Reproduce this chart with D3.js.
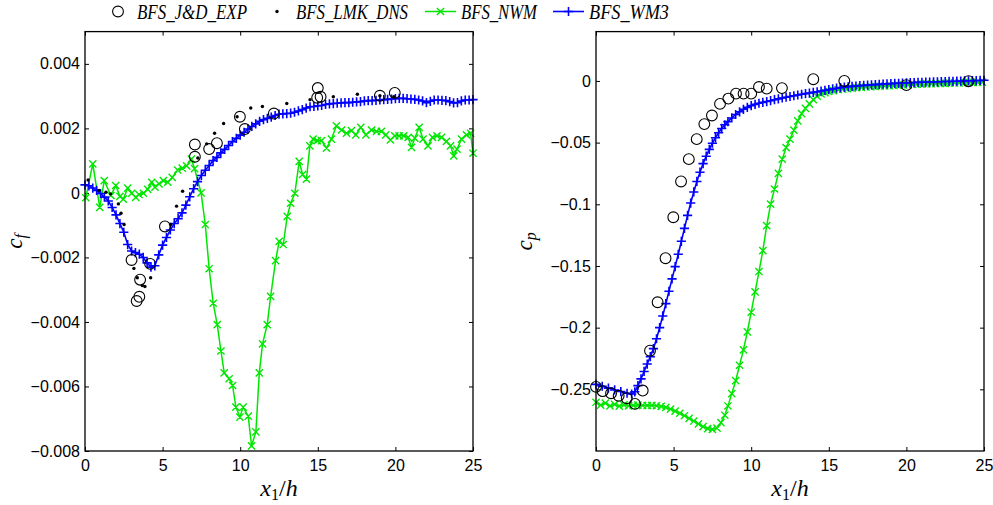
<!DOCTYPE html>
<html>
<head>
<meta charset="utf-8">
<script src="https://cdn.jsdelivr.net/npm/d3@7"></script>
<style>
  html, body { margin: 0; padding: 0; background: #fff; }
  svg { display: block; }
  .math { font-family: "Liberation Serif", "DejaVu Serif", "Times New Roman", Times, serif; font-style: italic; }
</style>
</head>
<body>
<svg id="chart" width="993" height="505"></svg>
<script>
// ---------------- DATA ----------------
const seriesNames = ["BFS_J&D_EXP", "BFS_LMK_DNS", "BFS_NWM", "BFS_WM3"];
const xTicks = [0, 5, 10, 15, 20, 25];
const cfTicks = [-0.008, -0.006, -0.004, -0.002, 0, 0.002, 0.004];
const cpTicks = [-0.25, -0.2, -0.15, -0.1, -0.05, 0];

// Left panel: skin friction (values in units of 1e-3)
const cfExpX = [3.0, 3.33, 3.5, 3.55, 4.2, 5.15, 7.08, 7.08, 8.0, 8.5, 9.98, 10.3, 12.17, 15.0, 14.96, 15.18, 19.0, 19.96];
const cfExp  = [-2.08, -3.35, -3.22, -2.69, -2.2, -1.04, 1.12, 1.5, 1.36, 1.54, 2.36, 1.98, 2.46, 3.25, 2.95, 2.98, 3.01, 3.1];

const cfDnsX = [0.2, 0.9, 1.35, 1.65, 2.15, 2.32, 2.52, 3.15, 3.37, 3.69, 3.86, 4.23, 5.52, 5.9, 6.29, 7.27, 7.84, 8.35, 8.93, 9.8, 10.68, 11.43, 13.0, 14.5, 16.0, 17.55, 19.0, 19.9];
const cfDns  = [0.4, 0.08, 0.02, -0.03, -0.34, -0.63, -0.98, -2.34, -2.63, -2.87, -2.9, -2.63, -0.98, -0.41, 0.05, 1.08, 1.52, 1.85, 2.15, 2.36, 2.63, 2.68, 2.77, 2.89, 2.98, 3.06, 3.01, 2.98];

const cfNwmX = [0.05, 0.5, 0.95, 1.24, 1.67, 1.98, 2.25, 2.47, 2.75, 3.01, 3.27, 3.48, 3.76, 4.04, 4.3, 4.51, 4.77, 5.05, 5.33, 5.62, 5.97, 6.27, 6.55, 6.85, 7.06, 7.48, 7.75, 8.0, 8.26, 8.52, 8.76, 8.97, 9.29, 9.51, 9.72, 9.98, 10.19, 10.52, 10.73, 11.01, 11.23, 11.44, 11.74, 11.96, 12.28, 12.51, 12.77, 13.03, 13.25, 13.52, 13.8, 14.02, 14.27, 14.49, 14.7, 14.96, 15.24, 15.56, 15.88, 16.2, 16.53, 16.85, 17.17, 17.45, 17.77, 18.1, 18.46, 18.78, 19.1, 19.38, 19.68, 19.96, 20.24, 20.54, 20.82, 21.04, 21.25, 21.53, 21.78, 22.1, 22.39, 22.68, 22.97, 23.29, 23.55, 23.76, 23.97, 24.26, 24.58, 24.84, 25.0];
const cfNwm  = [-0.15, 0.9, -0.45, 0.38, -0.08, 0.23, -0.11, -0.19, 0.15, -0.01, -0.14, -0.05, -0.01, 0.11, 0.33, 0.18, 0.28, 0.38, 0.33, 0.48, 0.71, 0.77, 0.84, 1.05, 0.75, 0.0, -0.98, -2.35, -3.42, -4.08, -4.9, -5.58, -5.76, -5.97, -6.64, -6.95, -6.64, -6.92, -7.84, -7.41, -5.58, -4.68, -4.08, -3.21, -2.1, -1.5, -1.6, -0.73, -0.32, -0.01, 0.98, 0.57, 0.43, 1.46, 1.67, 1.62, 1.62, 1.39, 1.67, 2.08, 1.95, 1.85, 1.93, 1.8, 2.03, 1.8, 1.95, 1.91, 1.91, 1.8, 1.64, 1.77, 1.77, 1.77, 1.72, 1.41, 1.7, 2.03, 1.67, 1.46, 1.72, 1.77, 1.72, 1.6, 1.46, 1.15, 1.36, 1.67, 1.8, 1.85, 1.23];

const cfWm3X = [0, 0.25, 0.5, 0.75, 1, 1.25, 1.5, 1.75, 2, 2.25, 2.5, 2.75, 3, 3.25, 3.5, 3.75, 4, 4.25, 4.5, 4.75, 5, 5.25, 5.5, 5.75, 6, 6.25, 6.5, 6.75, 7, 7.25, 7.5, 7.75, 8, 8.25, 8.5, 8.75, 9, 9.25, 9.5, 9.75, 10, 10.25, 10.5, 10.75, 11, 11.25, 11.5, 11.75, 12, 12.25, 12.5, 12.75, 13, 13.25, 13.5, 13.75, 14, 14.25, 14.5, 14.75, 15, 15.25, 15.5, 15.75, 16, 16.25, 16.5, 16.75, 17, 17.25, 17.5, 17.75, 18, 18.25, 18.5, 18.75, 19, 19.25, 19.5, 19.75, 20, 20.25, 20.5, 20.75, 21, 21.25, 21.5, 21.75, 22, 22.25, 22.5, 22.75, 23, 23.25, 23.5, 23.75, 24, 24.25, 24.5, 24.75, 25];
const cfWm3  = [0.25, 0.22, 0.15, 0.08, -0.02, -0.13, -0.25, -0.45, -0.68, -0.95, -1.22, -1.6, -1.8, -1.85, -1.9, -2.0, -2.17, -2.3, -2.26, -1.92, -1.62, -1.38, -1.15, -0.95, -0.8, -0.62, -0.38, -0.12, 0.13, 0.35, 0.54, 0.7, 0.85, 1.0, 1.1, 1.24, 1.35, 1.47, 1.59, 1.69, 1.79, 1.88, 1.98, 2.06, 2.14, 2.22, 2.27, 2.31, 2.35, 2.4, 2.44, 2.45, 2.46, 2.47, 2.5, 2.54, 2.58, 2.63, 2.67, 2.68, 2.7, 2.71, 2.74, 2.76, 2.77, 2.78, 2.79, 2.8, 2.8, 2.81, 2.82, 2.83, 2.85, 2.86, 2.86, 2.87, 2.88, 2.89, 2.9, 2.91, 2.92, 2.93, 2.93, 2.92, 2.91, 2.9, 2.88, 2.85, 2.8, 2.84, 2.88, 2.88, 2.87, 2.86, 2.83, 2.79, 2.8, 2.85, 2.88, 2.88, 2.89];

// Right panel: pressure coefficient
const cpExpX = [0, 0.43, 0.97, 1.46, 1.98, 2.51, 3.01, 3.48, 3.97, 4.48, 4.98, 5.48, 5.98, 6.49, 6.98, 7.47, 7.99, 8.53, 9.02, 9.51, 10.0, 10.5, 11.0, 11.98, 14.0, 16.0, 20.0, 24.0];
const cpExp  = [-0.248, -0.2515, -0.2532, -0.2552, -0.2572, -0.2618, -0.251, -0.2187, -0.1794, -0.1437, -0.1105, -0.0815, -0.0634, -0.0472, -0.035, -0.028, -0.0186, -0.0143, -0.0103, -0.0103, -0.0103, -0.0049, -0.0062, -0.0058, 0.0014, 0.0, -0.0034, -0.0002];

const cpNwmX = [0, 0.3, 0.6, 0.9, 1.2, 1.5, 1.8, 2.1, 2.4, 2.7, 3.0, 3.3, 3.6, 3.9, 4.2, 4.5, 4.8, 5.1, 5.4, 5.7, 6.0, 6.3, 6.6, 6.9, 7.2, 7.5, 7.8, 8.05, 8.3, 8.5, 8.75, 9.0, 9.25, 9.5, 9.75, 10.0, 10.25, 10.5, 10.75, 11.0, 11.25, 11.5, 11.75, 12.0, 12.25, 12.5, 12.75, 13.0, 13.25, 13.5, 13.75, 14.0, 14.25, 14.5, 14.75, 15.0, 15.3, 15.6, 15.9, 16.2, 16.5, 16.8, 17.1, 17.4, 17.7, 18.0, 18.3, 18.6, 18.9, 19.2, 19.5, 19.8, 20.1, 20.4, 20.7, 21.0, 21.3, 21.6, 21.9, 22.2, 22.5, 22.8, 23.1, 23.4, 23.7, 24.0, 24.3, 24.6, 24.9];
const cpNwm  = [-0.2605, -0.2628, -0.2612, -0.2635, -0.2622, -0.2636, -0.2626, -0.2634, -0.263, -0.2628, -0.263, -0.2631, -0.263, -0.2633, -0.2638, -0.2647, -0.266, -0.2676, -0.2694, -0.2714, -0.2735, -0.2757, -0.278, -0.2803, -0.2818, -0.2825, -0.2815, -0.277, -0.271, -0.2635, -0.2535, -0.243, -0.2305, -0.218, -0.2035, -0.1875, -0.171, -0.1545, -0.1375, -0.1173, -0.0998, -0.0876, -0.075, -0.0634, -0.054, -0.0472, -0.0399, -0.0324, -0.0265, -0.0222, -0.0186, -0.0152, -0.0124, -0.0106, -0.0094, -0.0085, -0.0078, -0.0071, -0.0066, -0.0062, -0.0058, -0.0055, -0.0052, -0.0049, -0.0047, -0.0045, -0.0043, -0.0041, -0.0039, -0.0037, -0.0035, -0.0033, -0.0031, -0.0029, -0.0027, -0.0026, -0.0024, -0.0023, -0.0021, -0.002, -0.0019, -0.0017, -0.0016, -0.0015, -0.0014, -0.0013, -0.0012, -0.0011, -0.001];

const cpWm3X = [0, 0.4, 0.8, 1.2, 1.6, 2.0, 2.3, 2.5, 2.7, 2.9, 3.1, 3.3, 3.5, 3.7, 3.9, 4.1, 4.3, 4.5, 4.7, 4.9, 5.1, 5.3, 5.5, 5.7, 5.9, 6.1, 6.3, 6.5, 6.7, 6.9, 7.1, 7.3, 7.5, 7.7, 7.9, 8.1, 8.3, 8.5, 8.75, 9.0, 9.25, 9.5, 9.75, 10.0, 10.25, 10.5, 10.75, 11.0, 11.25, 11.5, 11.75, 12.0, 12.25, 12.5, 12.75, 13.0, 13.25, 13.5, 13.75, 14.0, 14.25, 14.5, 14.75, 15.0, 15.25, 15.5, 15.75, 16.0, 16.25, 16.5, 16.75, 17.0, 17.25, 17.5, 17.75, 18.0, 18.25, 18.5, 18.75, 19.0, 19.25, 19.5, 19.75, 20.0, 20.25, 20.5, 20.75, 21.0, 21.25, 21.5, 21.75, 22.0, 22.25, 22.5, 22.75, 23.0, 23.25, 23.5, 23.75, 24.0, 24.25, 24.5, 24.75, 25.0];
const cpWm3  = [-0.246, -0.2475, -0.249, -0.2505, -0.2518, -0.2532, -0.2538, -0.252, -0.247, -0.2415, -0.2355, -0.2295, -0.2235, -0.217, -0.209, -0.2, -0.1905, -0.1805, -0.1705, -0.1605, -0.1505, -0.1405, -0.13, -0.1195, -0.109, -0.099, -0.09, -0.0815, -0.074, -0.067, -0.061, -0.0555, -0.0505, -0.046, -0.042, -0.0385, -0.0355, -0.033, -0.03, -0.0272, -0.025, -0.023, -0.0214, -0.02, -0.019, -0.0181, -0.0174, -0.0167, -0.016, -0.0152, -0.0145, -0.0138, -0.0132, -0.0126, -0.012, -0.0114, -0.0108, -0.0103, -0.0098, -0.0093, -0.0088, -0.0082, -0.0076, -0.007, -0.0064, -0.0059, -0.0054, -0.005, -0.0047, -0.0044, -0.0041, -0.0038, -0.0036, -0.0034, -0.0032, -0.003, -0.0028, -0.0026, -0.0024, -0.0022, -0.002, -0.0019, -0.0017, -0.0016, -0.0014, -0.0013, -0.0012, -0.0011, -0.001, -0.0009, -0.0008, -0.0007, -0.0006, -0.0005, -0.0004, -0.0003, -0.0002, -0.0001, 0.0, 0.0001, 0.0002, 0.0003, 0.0004, 0.0005];

// ---------------- DRAWING ----------------
const CF_UNIT = 1e-3;
const GREEN = "#00e600", BLUE = "#0000ff";
const svg = d3.select("#chart");
const tickFont = "Liberation Sans, Arial, Helvetica, sans-serif";
const fmt = v => (Math.abs(v) < 1e-12 ? "0" : d3.format("~g")(+v.toFixed(6)));

const zip = (xs, ys, k = 1) => xs.map((x, i) => ({ x, y: ys[i] * k }));

function crossPath(cx, cy, s) { return `M${cx - s},${cy - s}L${cx + s},${cy + s}M${cx - s},${cy + s}L${cx + s},${cy - s}`; }
function plusPath(cx, cy, s) { return `M${cx - s},${cy}L${cx + s},${cy}M${cx},${cy - s}L${cx},${cy + s}`; }

function panel(opts) {
  const { x0, x1, y0, y1, yDomain, yTicks } = opts;
  const x = d3.scaleLinear().domain([0, 25]).range([x0, x1]);
  const y = d3.scaleLinear().domain(yDomain).range([y1, y0]);
  const g = svg.append("g");

  const styleAxis = sel => {
    sel.select(".domain").remove();
    sel.selectAll(".tick line").attr("stroke", "#000").attr("stroke-width", 1);
    sel.selectAll("text").attr("font-family", tickFont).attr("font-size", 16).attr("fill", "#000");
  };
  g.append("g").attr("transform", `translate(0,${y1})`)
    .call(d3.axisBottom(x).tickValues(xTicks).tickSize(-4).tickPadding(9).tickFormat(fmt)).call(styleAxis);
  g.append("g").attr("transform", `translate(0,${y0})`)
    .call(d3.axisTop(x).tickValues(xTicks).tickSize(-4).tickFormat("")).call(styleAxis);
  g.append("g").attr("transform", `translate(${x0},0)`)
    .call(d3.axisLeft(y).tickValues(yTicks).tickSize(-4).tickPadding(5).tickFormat(fmt)).call(styleAxis);
  g.append("g").attr("transform", `translate(${x1},0)`)
    .call(d3.axisRight(y).tickValues(yTicks).tickSize(-4).tickFormat("")).call(styleAxis);

  const plot = g.append("g");
  const line = d3.line().x(d => x(d.x)).y(d => y(d.y));

  // NWM (green, x markers)
  plot.append("path").datum(opts.nwm).attr("d", line)
    .attr("fill", "none").attr("stroke", GREEN).attr("stroke-width", 1.5);
  plot.append("path")
    .attr("d", opts.nwm.map(d => crossPath(x(d.x), y(d.y), 3.6)).join(""))
    .attr("fill", "none").attr("stroke", GREEN).attr("stroke-width", 1.4);

  // WM3 (blue, + markers)
  plot.append("path").datum(opts.wm3).attr("d", line)
    .attr("fill", "none").attr("stroke", BLUE).attr("stroke-width", 1.6);
  plot.append("path")
    .attr("d", opts.wm3.map(d => plusPath(x(d.x), y(d.y), 4.6)).join(""))
    .attr("fill", "none").attr("stroke", BLUE).attr("stroke-width", 1.6);

  // DNS dots
  if (opts.dns) {
    plot.selectAll("circle.dns").data(opts.dns).join("circle").attr("class", "dns")
      .attr("cx", d => x(d.x)).attr("cy", d => y(d.y)).attr("r", 1.7).attr("fill", "#000");
  }
  // EXP circles
  plot.selectAll("circle.exp").data(opts.exp).join("circle").attr("class", "exp")
    .attr("cx", d => x(d.x)).attr("cy", d => y(d.y)).attr("r", 5.4)
    .attr("fill", "none").attr("stroke", "#000").attr("stroke-width", 1.1);

  // frame
  g.append("rect").attr("x", x0).attr("y", y0).attr("width", x1 - x0).attr("height", y1 - y0)
    .attr("fill", "none").attr("stroke", "#000").attr("stroke-width", 1.3);

  // x label
  const xl = g.append("text").attr("class", "math").attr("x", (x0 + x1) / 2).attr("y", 496)
    .attr("text-anchor", "middle").attr("font-size", 24);
  xl.append("tspan").text("x");
  xl.append("tspan").attr("font-size", 16).attr("font-style", "normal").attr("dy", 4).text("1");
  xl.append("tspan").attr("dy", -4).attr("font-style", "normal").text("/");
  xl.append("tspan").text("h");

  // y label
  const yl = g.append("text").attr("class", "math")
    .attr("transform", `translate(${opts.ylx},${(y0 + y1) / 2}) rotate(-90)`)
    .attr("text-anchor", "middle").attr("font-size", 23);
  yl.append("tspan").text("c");
  yl.append("tspan").attr("font-size", 16).attr("dy", 4).text(opts.ysub);
}

panel({
  x0: 85, x1: 473, y0: 31.6, y1: 451, yDomain: [-0.008, 0.005], yTicks: cfTicks,
  exp: zip(cfExpX, cfExp, CF_UNIT), dns: zip(cfDnsX, cfDns, CF_UNIT),
  nwm: zip(cfNwmX, cfNwm, CF_UNIT), wm3: zip(cfWm3X, cfWm3, CF_UNIT),
  ylx: 22, ysub: "f"
});
panel({
  x0: 596, x1: 984, y0: 31.6, y1: 451, yDomain: [-0.3, 0.04], yTicks: cpTicks,
  exp: zip(cpExpX, cpExp), dns: null,
  nwm: zip(cpNwmX, cpNwm), wm3: zip(cpWm3X, cpWm3),
  ylx: 532, ysub: "p"
});

// ---------------- LEGEND ----------------
const lg = svg.append("g");
const ly = 11.5, lb = 19;
const legendText = (x, t, w) => lg.append("text").attr("class", "math").attr("x", x).attr("y", lb)
  .attr("font-size", 21)
  .attr("textLength", w).attr("lengthAdjust", "spacingAndGlyphs").text(t);

lg.append("circle").attr("cx", 118).attr("cy", ly).attr("r", 5.4).attr("fill", "none").attr("stroke", "#000").attr("stroke-width", 1.1);
legendText(137, seriesNames[0], 110);
lg.append("circle").attr("cx", 277).attr("cy", ly).attr("r", 1.7).attr("fill", "#000");
legendText(296, seriesNames[1], 112);
lg.append("line").attr("x1", 425).attr("x2", 456).attr("y1", ly).attr("y2", ly).attr("stroke", GREEN).attr("stroke-width", 1.5);
lg.append("path").attr("d", crossPath(440.5, ly, 3.6)).attr("stroke", GREEN).attr("stroke-width", 1.4).attr("fill", "none");
legendText(461, seriesNames[2], 76);
lg.append("line").attr("x1", 553).attr("x2", 584).attr("y1", ly).attr("y2", ly).attr("stroke", BLUE).attr("stroke-width", 1.6);
lg.append("path").attr("d", plusPath(568.5, ly, 4.6)).attr("stroke", BLUE).attr("stroke-width", 1.6).attr("fill", "none");
legendText(589, seriesNames[3], 80);
</script>
</body>
</html>
